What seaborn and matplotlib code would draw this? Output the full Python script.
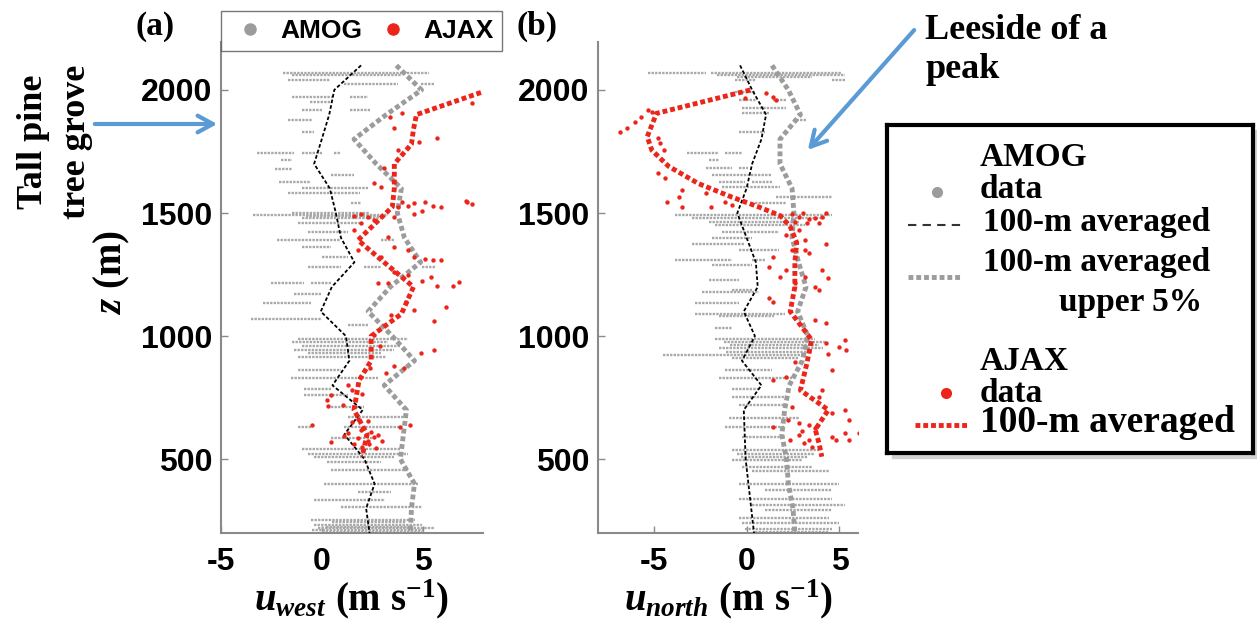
import matplotlib.pyplot as plt
import seaborn as sns
from matplotlib.lines import Line2D
from matplotlib.patches import Rectangle

sns.set_style("ticks")
plt.rcParams["font.family"] = ["Liberation Sans", "DejaVu Sans"]
plt.rcParams["font.weight"] = "bold"
plt.rcParams["text.color"] = "black"
plt.rcParams["axes.labelcolor"] = "black"
plt.rcParams["axes.unicode_minus"] = False
plt.rcParams["mathtext.fontset"] = "custom"
plt.rcParams["mathtext.rm"] = "Liberation Serif:bold"
plt.rcParams["mathtext.it"] = "Liberation Serif:italic:bold"
plt.rcParams["mathtext.bf"] = "Liberation Serif:bold"

SERIF = "Liberation Serif"
GRAY_PTS = "#a8a8a8"
GRAY_AVG = "#9c9c9c"
RED = "#ec2419"
BLUE = "#5b9bd5"
AXIS_GRAY = "#8a8a8a"

# ---- data ----
# 100-m averaged AMOG profiles
avg_z = [2100, 2000, 1900, 1800, 1700, 1600, 1500, 1400, 1300, 1200,
         1100, 1000, 900, 800, 700, 600, 500, 400, 300, 200]
west_amog_mean = [1.95, 0.62, 0.37, 0.0, -0.38, 0.4, 0.7, 0.95, 1.62, 0.5,
                  -0.05, 1.2, 1.37, 0.53, 2.03, 1.12, 2.12, 2.62, 2.2, 2.37]
west_amog_upper = [3.7, 4.95, 3.2, 1.6, 2.7, 3.95, 3.75, 4.1, 4.9, 3.4,
                   2.3, 3.5, 4.6, 3.1, 4.2, 4.05, 3.9, 4.6, 4.45, 4.4]
north_amog_mean = [-0.35, 0.3, 1.05, 0.8, 0.3, 0.0, -0.5, 0.0, 0.5, 0.6,
                   -0.15, 0.45, -0.25, 0.8, -0.15, -0.1, -0.05, 0.1, 0.25, 0.4]
north_amog_upper = [1.37, 2.25, 2.9, 1.8, 1.8, 2.45, 2.55, 2.45, 2.8, 3.2,
                    2.75, 3.3, 3.0, 2.3, 2.05, 1.9, 2.15, 2.25, 2.5, 2.6]

# 100-m averaged AJAX profiles
west_ajax_z = [1990, 1900, 1840, 1780, 1700, 1600, 1525, 1390, 1320, 1200,
               1090, 1000, 900, 820, 700, 600, 510]
west_ajax = [7.9, 4.7, 4.55, 4.45, 3.6, 3.6, 3.5, 1.8, 2.8, 4.55,
             3.95, 2.45, 2.45, 1.85, 1.6, 2.25, 2.0]
north_ajax_z = [2000, 1905, 1810, 1755, 1690, 1620, 1565, 1525, 1490, 1445,
                1380, 1300, 1200, 1100, 985, 890, 780, 700, 620, 565, 510]
north_ajax = [0.2, -4.85, -5.35, -5.1, -4.2, -2.6, -0.8, 0.65, 1.8, 2.35,
              2.7, 2.6, 2.6, 2.35, 3.5, 3.25, 2.9, 4.4, 3.7, 3.9, 4.05]

# AJAX raw data
west_red_u = [4.0, 3.4, 3.6, 5.7, 4.8, 3.8, 7.45, 3.1, 2.6, 2.95,
              4.0, 4.3, 4.6, 5.1, 5.5, 5.9, 7.2, 7.45, 3.8, 3.6, 4.95, 4.6, 2.3, 1.95, 1.6, 2.6,
              3.3, 3.6, 4.3, 4.6, 5.1, 5.5, 5.9, 1.95, 1.6, 1.8, 2.95,
              3.6, 4.3, 4.95, 5.4, 5.7, 6.5, 6.8, 3.3, 2.8, 7.15, 6.15, 5.57, 4.9, 5.57,
              3.45, 4.6, 4.2, 2.6, 2.9, 3.6, 4.1, 3.2, 2.4,
              0.28, 0.45, 0.3, 1.3, 1.5, 2.0, 4.4, 3.9, -0.47, 1.03, 0.45,
              1.95, 2.2, 2.45, 1.8, 2.3, 2.6, 1.6, 2.0, 2.35, 1.3, 1.1, 1.5, 1.8, 2.3, 2.8, 3.0, 2.7]
west_red_z = [1905, 1892, 1844, 1804, 1790, 1756, 1946, 1682, 1621, 1607,
              1546, 1530, 1540, 1546, 1530, 1525, 1546, 1535, 1525, 1484, 1510, 1495, 1484, 1495, 1490, 1470,
              1404, 1364, 1350, 1323, 1315, 1309, 1309, 1458, 1430, 1350, 1323,
              1260, 1250, 1225, 1241, 1205, 1205, 1221, 1214, 1214, 1550, 1119, 1062, 930, 943,
              1085, 1105, 1140, 1005, 960, 880, 870, 850, 870,
              740, 760, 715, 800, 780, 765, 638, 630, 638, 720, 570,
              620, 598, 612, 585, 575, 590, 560, 550, 560, 605, 595, 650, 665, 655, 600, 575, 545]
north_red_u = [-6.8, -6.45, -6.0, -5.7, -5.3, -5.1, -4.75, -4.65, -4.45, -4.75, -4.4, -3.5, -3.65,
               -4.3, -3.5, -2.2, -1.9, -1.15, -0.8, 1.4, -0.07, 1.05, 1.6,
               2.45, 2.8, 3.05, 3.35, 3.7, 3.9, 4.05, 4.25, 3.25, 2.6,
               2.8, 3.15, 3.15, 3.35, 4.25, 2.1, 2.45, 1.4, 1.2, 2.1, 1.8, 2.6, 3.15, 3.7, 4.4, 4.05,
               1.2, 1.4, 3.9, 4.25, 3.7, 4.25, 4.95, 5.3, 5.35, 4.4, 4.6, 2.6, 2.1, 1.4, 4.05, 3.9,
               2.45, 2.25, 1.4, 2.8, 3.35, 3.7, 4.6, 5.3, 5.5, 6.05, 5.3, 4.6, 4.8, 5.5, 3.35, 3.1,
               3.5, 2.35, 2.8, 3.0]
north_red_z = [1831, 1844, 1871, 1892, 1917, 1910, 1803, 1783, 1756, 1661, 1641, 1594, 1566,
               1546, 1525, 1580, 1525, 1546, 1532, 1973, 1966, 1986, 1960,
               1495, 1485, 1500, 1475, 1480, 1460, 1485, 1500, 1460, 1462,
               1431, 1390, 1350, 1337, 1376, 1410, 1350, 1323, 1282, 1270, 1241, 1214, 1241, 1200, 1235, 1270,
               1153, 1140, 1187, 1052, 1065, 970, 957, 984, 943, 929, 862, 896, 835, 821, 781, 754,
               713, 659, 632, 645, 640, 625, 686, 700, 659, 605, 605, 590, 578, 578, 578, 565,
               550, 578, 600, 615]

# AMOG raw data: horizontal streaks of samples (altitude, u start, u end)
west_streak_z = [2070, 2061, 2040, 2025, 2025, 1970, 1970, 1950, 1920, 1920,
                 1880, 1830, 1745, 1745, 1745, 1715, 1680, 1655, 1628, 1600,
                 1580, 1540, 1500, 1492, 1486, 1478, 1460, 1425, 1390, 1390, 1363, 1322,
                 1282, 1282, 1282, 1214, 1214, 1173, 1133, 1068, 1045, 990,
                 975, 960, 945, 930, 915, 862, 828, 787, 760, 713,
                 672, 631, 631, 584, 543, 523, 509, 489, 455, 401,
                 367, 333, 306, 252, 245, 232, 225, 219, 212, 205]
west_streak_u0 = [-1.9, -1.5, -1.7, 1.1, 4.9, -1.5, 1.4, -0.6, -1.0, 1.4,
                  -1.7, -1.0, -3.2, -1.0, 0.6, -2.0, -2.3, 0.45, -2.1, -1.0,
                  -1.7, 1.45, -1.5, -3.4, -0.8, -1.0, -1.2, -0.7, -2.2, 2.95, -1.0, 0.0,
                  -0.7, 2.1, 4.95, -2.5, -0.55, -1.4, -2.9, -3.5, 1.3, -1.2,
                  -1.5, -1.0, -1.4, -0.7, -1.2, -1.2, -1.55, -0.9, -0.9, 0.45,
                  1.28, -1.2, 1.12, 0.45, -1.0, -0.7, -0.38, 0.28, 0.45, 0.12,
                  1.78, -0.38, 0.95, -0.55, 0.5, -0.38, 0.2, -0.2, -0.5, 0.0]
west_streak_u1 = [5.3, 4.0, 0.4, 3.8, 5.6, 0.6, 2.3, 0.45, 0.0, 2.4,
                  -0.5, -0.4, -1.4, 0.0, 0.95, -1.5, -1.5, 1.6, -0.55, 2.3,
                  1.9, 1.95, 2.4, 3.3, 3.0, 2.95, 1.9, 1.3, 0.9, 3.6, 0.45, 1.3,
                  0.95, 2.95, 5.6, -0.9, 0.45, -0.05, -0.55, 0.0, 2.3, 4.3,
                  3.3, 3.9, 3.6, 2.95, 3.2, 0.95, 2.8, 0.45, 1.3, 2.1,
                  4.28, -0.55, 3.95, 2.6, 3.95, 4.3, 3.6, 2.95, 4.28, 4.78,
                  3.45, 3.12, 4.95, 4.62, 4.2, 4.95, 4.5, 5.6, 5.0, 4.95]
north_streak_z = [2068, 2068, 2060, 2052, 2040, 2040, 1993, 1960, 1960, 1926,
                  1905, 1878, 1831, 1743, 1743, 1716, 1682, 1682, 1655, 1627,
                  1627, 1607, 1566, 1539, 1492, 1478, 1464, 1451, 1424, 1397,
                  1376, 1350, 1310, 1310, 1289, 1228, 1187, 1180, 1133, 1090,
                  1080, 1031, 990, 977, 963, 950, 936, 923, 910, 862,
                  828, 787, 754, 720, 666, 632, 591, 537, 523, 510,
                  497, 470, 450, 401, 374, 340, 313, 293, 259, 239,
                  218, 205]
north_streak_u0 = [-5.3, -1.9, -1.6, -0.5, -0.6, 4.6, -0.6, -0.4, 1.4, -0.25,
                   -0.25, 2.5, -0.4, -3.2, -1.15, -2.05, -2.2, -0.4, -1.87, -1.5,
                   0.3, -1.3, 1.6, 0.47, -3.84, -2.95, -2.05, -1.7, -1.33, -1.87,
                   -2.95, -0.43, -3.84, 0.29, -1.87, -2.05, -0.79, -2.41, -2.77, -2.77,
                   -1.5, -1.69, -1.7, -1.2, -0.9, -1.5, -1.1, -4.5, -0.8, -1.15,
                   -1.51, -0.79, -0.79, -0.43, -0.97, -1.15, -0.25, -0.79, -0.5, -0.3,
                   -0.79, -0.25, 0.29, -0.43, 1.01, -0.43, 0.29, 1.01, -0.43, -0.25,
                   -0.07, 0.47]
north_streak_u1 = [-2.2, 5.1, 5.3, 3.5, 0.5, 5.3, 0.5, 0.5, 2.1, 2.1,
                   1.2, 3.2, 1.0, -1.5, -0.25, -1.5, -0.8, 0.1, 1.37, -0.07,
                   1.4, 1.8, 4.6, 2.1, 4.6, 4.24, 2.8, 3.16, 1.73, 0.29,
                   -0.07, 1.73, -0.79, 1.01, 0.29, -0.43, 0.29, 0.65, -0.43, 2.09,
                   1.5, -0.79, 3.7, 4.3, 3.9, 4.1, 3.5, 3.2, 2.8, 1.37,
                   2.44, 0.65, 2.09, 2.09, 2.8, 2.09, 2.09, 3.88, 3.7, 3.3,
                   3.0, 3.52, 4.42, 4.96, 4.6, 4.6, 5.32, 4.6, 4.42, 4.96,
                   4.6, 4.42]

# ---- figure ----
W, H = 1257, 621
fig = plt.figure(figsize=(W / 100, H / 100), dpi=100)


def box(x0, y0, x1, y1):
    return [x0 / W, 1 - y1 / H, (x1 - x0) / W, (y1 - y0) / H]


ax_w = fig.add_axes(box(221, 42, 483, 533))
ax_n = fig.add_axes(box(598, 42, 858, 533))


def draw_panel(ax, sz, su0, su1, amog_mean, amog_upper, ajax_z, ajax_u, red_u, red_z):
    ax.hlines(sz, su0, su1, colors=GRAY_PTS, linewidth=1.7,
              linestyles=(0, (1.0, 0.5)), zorder=1)
    sns.lineplot(x=amog_upper, y=avg_z, sort=False, estimator=None, color=GRAY_AVG,
                 lw=3.5, linestyle=(0, (1, 0.6)), ax=ax, zorder=2)
    sns.lineplot(x=amog_mean, y=avg_z, sort=False, estimator=None, color="black",
                 lw=1.3, linestyle=(0, (2.0, 1.2)), ax=ax, zorder=3)
    sns.scatterplot(x=red_u, y=red_z, color=RED, s=10, linewidth=0, ax=ax, zorder=4)
    sns.lineplot(x=ajax_u, y=ajax_z, sort=False, estimator=None, color=RED,
                 lw=3.5, linestyle=(0, (1, 0.6)), ax=ax, zorder=5)


draw_panel(ax_w, west_streak_z, west_streak_u0, west_streak_u1, west_amog_mean,
           west_amog_upper, west_ajax_z, west_ajax, west_red_u, west_red_z)
draw_panel(ax_n, north_streak_z, north_streak_u0, north_streak_u1, north_amog_mean,
           north_amog_upper, north_ajax_z, north_ajax, north_red_u, north_red_z)

for ax, xlim in ((ax_w, (-5, 8)), (ax_n, (-8, 6))):
    ax.set_xlim(*xlim)
    ax.set_ylim(200, 2195)
    ax.set_xticks([-5, 0, 5])
    ax.set_yticks([500, 1000, 1500, 2000])
    sns.despine(ax=ax)
    for s in ("left", "bottom"):
        ax.spines[s].set_color(AXIS_GRAY)
        ax.spines[s].set_linewidth(1.5)
    ax.tick_params(direction="in", length=5, width=1, color=AXIS_GRAY,
                   labelsize=23, labelcolor="black")
    ax.tick_params(axis="x", pad=10)
    ax.tick_params(axis="y", pad=6)

ax_w.set_xlabel(r"$u_{west}\ \mathrm{(m\ s^{-1})}$", fontsize=28, labelpad=0)
ax_n.set_xlabel(r"$u_{north}\ \mathrm{(m\ s^{-1})}$", fontsize=28, labelpad=0)
ax_w.set_ylabel(r"$z\ \mathrm{(m)}$", fontsize=28)
ax_w.yaxis.set_label_coords(-0.34, 0.53)

fig.text(155 / W, 1 - 26 / H, "(a)", ha="center", va="center", fontfamily=SERIF, fontsize=24)
fig.text(537 / W, 1 - 26 / H, "(b)", ha="center", va="center", fontfamily=SERIF, fontsize=24)

# annotations
fig.text(55 / W, 1 - 142 / H, "Tall pine\ntree grove", rotation=90, ha="center", va="center",
         multialignment="center", fontfamily=SERIF, fontsize=26, linespacing=1.4)
fig.text(925 / W, 1 - 50 / H, "Leeside of a\npeak", ha="left", va="center",
         fontfamily=SERIF, fontsize=26, linespacing=1.25)
arrow = dict(arrowstyle="->,head_length=1.1,head_width=0.6", color=BLUE, lw=3)
ax_w.annotate("", xy=(220, H - 124), xycoords="figure pixels",
              xytext=(92, H - 124), textcoords="figure pixels", arrowprops=arrow)
ax_n.annotate("", xy=(806, H - 152), xycoords="figure pixels",
              xytext=(916, H - 28), textcoords="figure pixels", arrowprops=arrow)

# top legend in panel (a)
handles = [Line2D([], [], ls="", marker="o", ms=8, color=GRAY_AVG),
           Line2D([], [], ls="", marker="o", ms=8, color=RED)]
fig.legend(handles, ["AMOG", "AJAX"], loc="center", bbox_to_anchor=box(221, 10, 502, 52),
           ncol=2, mode="expand", frameon=True, fancybox=False, edgecolor="#555555",
           prop={"family": "Liberation Sans", "weight": "bold", "size": 19},
           handlelength=1.6, handletextpad=0.35, columnspacing=1.0,
           borderpad=0.3, borderaxespad=0)

# right legend box with a soft shadow
shadow = Rectangle((892 / W, 1 - 458 / H), 366 / W, 328 / H,
                   transform=fig.transFigure, color="#d0d0d0", zorder=1)
fig.patches.append(shadow)
lax = fig.add_axes(box(887, 125, 1253, 453))
lax.set_zorder(2)
lax.set_facecolor("white")
lax.set_xlim(887, 1253)
lax.set_ylim(453, 125)
lax.set_xticks([])
lax.set_yticks([])
for s in lax.spines.values():
    s.set_linewidth(3)
    s.set_color("black")

txt = dict(ha="left", va="center", fontfamily=SERIF, fontsize=24)
lax.text(980, 157, "AMOG", **txt)
lax.plot([937], [192], ls="", marker="o", ms=7, color=GRAY_AVG)
lax.text(980, 190, "data", **txt)
lax.plot([908, 962], [225, 225], color="#333333", lw=1.5, ls=(0, (4, 3)))
lax.text(983, 222, "100-m averaged", **txt)
lax.plot([908, 962], [277, 277], color=GRAY_AVG, lw=3.5, ls=(0, (1, 0.6)))
lax.text(983, 262, "100-m averaged", **txt)
lax.text(1059, 303, "upper 5%", **txt)
lax.text(980, 362, "AJAX", **txt)
lax.plot([946], [393], ls="", marker="o", ms=7, color=RED)
lax.text(980, 393, "data", **txt)
lax.plot([915, 967], [425, 425], color=RED, lw=3.5, ls=(0, (1, 0.6)))
lax.text(980, 423, "100-m averaged", ha="left", va="center", fontfamily=SERIF, fontsize=27)

fig.savefig("out.png", dpi=100)
